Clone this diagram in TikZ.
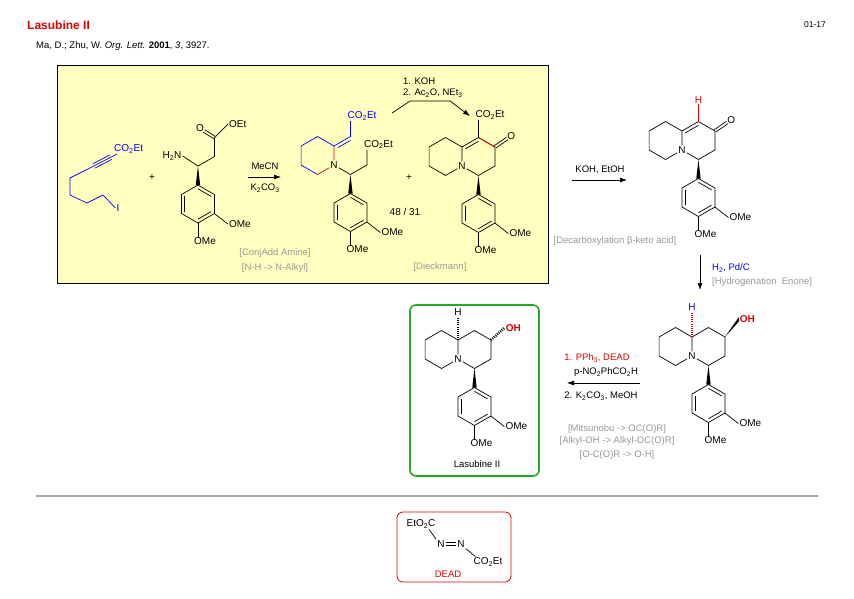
\documentclass[tikz,border=0pt]{standalone}
\usepackage{fontspec}
\setmainfont{Liberation Sans}
\usetikzlibrary{calc,arrows.meta}
\definecolor{gtx}{HTML}{999999}
\definecolor{rd}{HTML}{E00000}
\definecolor{bl}{HTML}{0000FF}
\definecolor{gr}{HTML}{22AA22}
\definecolor{yl}{HTML}{FFFFC0}
\newcommand\sub[1]{\textsubscript{#1}}
\def\h{16.45}
\def\b{19}
\tikzset{
  atom/.style={inner sep=1pt, font=\fontsize{10}{11}\selectfont},
  lbl/.style={inner sep=1pt, font=\fontsize{9.5}{11}\selectfont},
  glbl/.style={inner sep=1pt, text=gtx, font=\fontsize{9.5}{11}\selectfont},
  bond/.style={line width=0.7pt},
  hash/.style={line width=2.6pt, dash pattern=on 0.9pt off 1.2pt},
  arr/.style={line width=0.7pt, -{Latex[length=7pt,width=5pt]}},
}
\newcommand\inner[3]{\draw[bond] ($(#1)!0.2!(#3)$) -- ($(#2)!0.2!(#3)$);}
\newcommand\arylpart[1]{%
  \coordinate (#1c4) at ({\h},{0.5*\b});
  \coordinate (#1r1) at ({\h},{1.5*\b});
  \coordinate (#1r2) at ({2*\h},{2*\b});
  \coordinate (#1r3) at ({2*\h},{3*\b});
  \coordinate (#1r4) at ({\h},{3.5*\b});
  \coordinate (#1r5) at (0,{3*\b});
  \coordinate (#1r6) at (0,{2*\b});
  \coordinate (#1bc) at ({\h},{2.5*\b});
  \fill (#1c4) -- ($(#1r1)+(2.2,0)$) -- ($(#1r1)+(-2.2,0)$) -- cycle;
  \draw[bond] (#1r1) -- (#1r2) -- (#1r3) -- (#1r4) -- (#1r5) -- (#1r6) -- cycle;
  \inner{#1r1}{#1r2}{#1bc}\inner{#1r3}{#1r4}{#1bc}\inner{#1r5}{#1r6}{#1bc}
  \node[atom,anchor=west] (#1o3) at ({3*\h-3},{3.5*\b+1}) {OMe};
  \node[atom,anchor=north west] (#1o4) at ({\h-5},{4.2*\b}) {OMe};
  \draw[bond] (#1r3) -- (#1o3.west);
  \draw[bond] (#1r4) -- ($(#1o4.north west)+(5,1)$);
}
\newcommand\qzpart[1]{%
  \node[atom] (#1N) at (0,0) {N};
  \coordinate (#1a) at (0,{-\b});
  \coordinate (#1c1) at ({\h},{-1.5*\b});
  \coordinate (#1c2) at ({2*\h},{-\b});
  \coordinate (#1c3) at ({2*\h},0);
  \coordinate (#1rc) at ({\h},{-0.5*\b});
  \coordinate (#1l1) at ({-\h},{-1.5*\b});
  \coordinate (#1l2) at ({-2*\h},{-\b});
  \coordinate (#1l3) at ({-2*\h},0);
  \coordinate (#1l4) at ({-\h},{0.5*\b});
  \draw[bond] (#1N) -- (#1a) -- (#1c1) -- (#1c2) -- (#1c3) -- ({\h},{0.5*\b}) -- (#1N);
  \draw[bond] (#1a) -- (#1l1) -- (#1l2) -- (#1l3) -- (#1l4) -- (#1N);
  \arylpart{#1}
}
\newcommand\dbl[3]{\draw[bond,#3] ($(#1)!1.4pt!90:(#2)$) -- ($(#2)!1.4pt!-90:(#1)$); \draw[bond,#3] ($(#1)!1.4pt!-90:(#2)$) -- ($(#2)!1.4pt!90:(#1)$);}
\begin{document}
\begin{tikzpicture}[x=1pt,y=-1pt]
\useasboundingbox (0,0) rectangle (854,598);
\fill[white] (0,0) rectangle (854,598);
\node[anchor=west,inner sep=0,text=rd,font=\fontsize{12}{14}\selectfont\bfseries] (title) at (27,25) {Lasubine II};
\node[anchor=east,inner sep=0,font=\fontsize{8.5}{10}\selectfont] (num) at (826,25) {01-17};
\node[anchor=west,inner sep=0,font=\fontsize{9.5}{11}\selectfont] (ref) at (36,46) {Ma, D.; Zhu, W. \textit{Org. Lett.} \textbf{2001}, \textit{3}, 3927.};
\draw[fill=yl,line width=0.8pt] (57,65) rectangle (548,283);
% alkyne
\node[atom,text=bl,anchor=west] (ae) at (113,149) {CO\sub{2}Et};
\coordinate (p0) at (117,154); \coordinate (p1) at (86,170);
\coordinate (p2) at (70,178); \coordinate (p3) at (70,195);
\coordinate (p4) at (87,203); \coordinate (p5) at (103,195);
\node[atom,text=bl] (ai) at (118,208) {I};
\draw[bond,bl] (p0) -- (p1) -- (p2) -- (p3) -- (p4) -- (p5) -- (ai.west);
\draw[bond,bl] ($(p0)!0.2!(p1)+(-1,-2.2)$) -- ($(p0)!0.75!(p1)+(-1,-2.2)$);
\draw[bond,bl] ($(p0)!0.2!(p1)+(1,2.2)$) -- ($(p0)!0.75!(p1)+(1,2.2)$);
\node[atom] (plus1) at (152,178) {+};
% amine
\coordinate (mch) at (198,166); \coordinate (mch2) at (214.5,156.5); \coordinate (mcc) at (214.5,137.5);
\coordinate (moc) at (204,131);
\node[atom] (mnh) at (172,156) {H\sub{2}N};
\node[atom,anchor=south east] (mo) at (205,133) {O};
\node[atom,anchor=west] (moet) at (228,124) {OEt};
\draw[bond] (mnh.east) -- (mch) -- (mch2) -- (mcc) -- (moet.west);
\dbl{mcc}{moc}{}
\begin{scope}[shift={(181.5,156.5)}] \arylpart{m} \end{scope}
% arrow 1
\draw[arr] (248,177) coordinate (a1s) -- (281,177) coordinate (a1e);
\node[lbl] (mecn) at (265,166) {MeCN};
\node[lbl] (k2co3) at (265,188) {K\sub{2}CO\sub{3}};
\node[glbl] (g1) at (275,253) {[ConjAdd Amine]};
\node[glbl] (g2) at (275,268) {[N-H -> N-Alkyl]};
% intermediate
\begin{scope}[shift={(334,165)}]
  \node[atom] (iN) at (0,0) {N};
  \coordinate (ia) at (0,{-\b});
  \coordinate (il1) at ({-\h},{-1.5*\b}); \coordinate (il2) at ({-2*\h},{-\b});
  \coordinate (il3) at ({-2*\h},0); \coordinate (il4) at ({-\h},{0.5*\b});
  \draw[bond,bl] (ia) -- (il1) -- (il2) -- (il3) -- (il4);
  \draw[bond,rd] (il4) -- (iN) -- (ia);
  \coordinate (ie1) at ({\h},{-1.5*\b});
  \draw[bond,bl] (ia) -- (ie1);
  \draw[bond,bl] ($(ia)!0.15!(ie1)+(1.7,2.9)$) -- ($(ia)!0.9!(ie1)+(1.7,2.9)$);
  \node[atom,text=bl,anchor=south west] (ice) at ({\h-4},{-2.3*\b}) {CO\sub{2}Et};
  \draw[bond,bl] (ie1) -- ({\h},{-2.3*\b});
  \coordinate (ich2) at ({2*\h},0);
  \draw[bond] (iN) -- ({\h},{0.5*\b}) -- (ich2) -- ({2*\h},{-0.8*\b});
  \node[atom,anchor=south west] (ice2) at ({2*\h-4},{-0.8*\b}) {CO\sub{2}Et};
  \arylpart{i}
\end{scope}
\node[atom] (plus2) at (409,178) {+};
\node[atom] (ratio) at (405,212) {48 / 31};
% Dieckmann
\begin{scope}[shift={(462,166)}]
  \qzpart{d}
  \inner{da}{dc1}{drc}
  \draw[bond,rd] (dc1) -- (dc2);
  \coordinate (dOc) at ({2.75*\h},{-1.45*\b});
  \node[atom,anchor=south west] (dO) at ($(dOc)+(-1,2)$) {O};
  \dbl{dc2}{dOc}{}
  \draw[bond] (dc1) -- ({\h},{-2.4*\b});
  \node[atom,anchor=south west] (dce) at ({\h-4},{-2.4*\b}) {CO\sub{2}Et};
\end{scope}
\node[glbl] (g3) at (440,267) {[Dieckmann]};
% curved arrow
\coordinate (ca1) at (392,113); \coordinate (ca2) at (410,101); \coordinate (ca3) at (450,101); \coordinate (ca4) at (470,116);
\draw[bond] (ca1) -- (ca2) -- (ca3);
\draw[arr] (ca3) -- (ca4);
\node[lbl,anchor=west] (koh1) at (402,81) {1. KOH};
\node[lbl,anchor=west] (koh2) at (402,93) {2. Ac\sub{2}O, NEt\sub{3}};
% arrow 2
\draw[arr] (572,180) coordinate (b2s) -- (627,180) coordinate (b2e);
\node[lbl] (koh3) at (600,170) {KOH, EtOH};
\node[glbl] (g4) at (615,241) {[Decarboxylation β-keto acid]};
% enone
\begin{scope}[shift={(682,150)}]
  \qzpart{e}
  \inner{ea}{ec1}{erc}
  \coordinate (eOc) at ({2.75*\h},{-1.45*\b});
  \node[atom,anchor=south west] (eO) at ($(eOc)+(-1,2)$) {O};
  \dbl{ec2}{eOc}{}
  \node[atom,text=rd] (eH) at ({\h},{-2.65*\b}) {H};
  \draw[bond,rd,line width=1pt] (ec1) -- (eH);
\end{scope}
% arrow 3
\draw[arr] (700,255) coordinate (b3s) -- (700,290) coordinate (b3e);
\node[lbl,anchor=west,text=bl] (h2) at (711,268) {H\sub{2}, Pd/C};
\node[glbl,anchor=west] (g5) at (711,282) {[Hydrogenation\ \ Enone]};
% alcohol
\begin{scope}[shift={(692,356)}]
  \qzpart{h}
  \node[atom,text=bl] (hH) at (0,{-2.55*\b}) {H};
  \draw[hash,rd] (ha) -- (hH);
  \node[atom,text=rd,font=\fontsize{10}{11}\selectfont\bfseries] (hOH) at ({3*\h+6},{-1.95*\b}) {OH};
  \fill (hc2) -- ($(hOH.west)+(0.5,-2.2)$) -- ($(hOH.west)+(0.5,2.2)$) -- cycle;
\end{scope}
% arrow 4
\draw[arr] (640,383) coordinate (b4s) -- (567,383) coordinate (b4e);
\node[lbl,text=rd] (pph3) at (597,358) {1. PPh\sub{3}, DEAD};
\node[lbl] (pno2) at (606,372) {p-NO\sub{2}PhCO\sub{2}H};
\node[lbl] (k2b) at (601,396) {2. K\sub{2}CO\sub{3}, MeOH};
\node[glbl] (g6) at (617,429) {[Mitsunobu -> OC(O)R]};
\node[glbl] (g7) at (617,441) {[Alkyl-OH -> Alkyl-OC(O)R]};
\node[glbl] (g8) at (617,455) {[O-C(O)R -> O-H]};
% Lasubine II
\draw[gr,line width=1.6pt,rounded corners=6pt] (410,305) rectangle (539,476);
\begin{scope}[shift={(458,359)}]
  \qzpart{s}
  \node[atom] (sH) at (0,{-2.45*\b}) {H};
  \draw[hash] (sa) -- (sH);
  \node[atom,text=rd,font=\fontsize{10}{11}\selectfont\bfseries] (sOH) at ({3*\h+6},{-1.65*\b}) {OH};
  \draw[hash] (sc2) -- (sOH.west);
\end{scope}
\node[lbl] (lasu) at (477,464) {Lasubine II};
\draw[gray!70,line width=1.5pt] (36,496) -- (818,496);
% DEAD box
\draw[rd,line width=0.8pt,rounded corners=6pt] (397,512) rectangle (511,582);
\node[atom] (de1) at (421,524) {EtO\sub{2}C};
\node[atom] (dn1) at (441,544) {N};
\node[atom] (dn2) at (461,544) {N};
\node[atom] (de2) at (488,562) {CO\sub{2}Et};
\draw[bond] (de1.south) ++(8,0) -- (dn1.north west);
\draw[bond] ($(dn1.east)+(0,-1.5)$) -- ($(dn2.west)+(0,-1.5)$);
\draw[bond] ($(dn1.east)+(0,1.5)$) -- ($(dn2.west)+(0,1.5)$);
\draw[bond] (dn2.south east) -- ($(de2.north west)+(3,0)$);
\node[lbl,text=rd] (dead) at (448,574) {DEAD};
\end{tikzpicture}
\end{document}
